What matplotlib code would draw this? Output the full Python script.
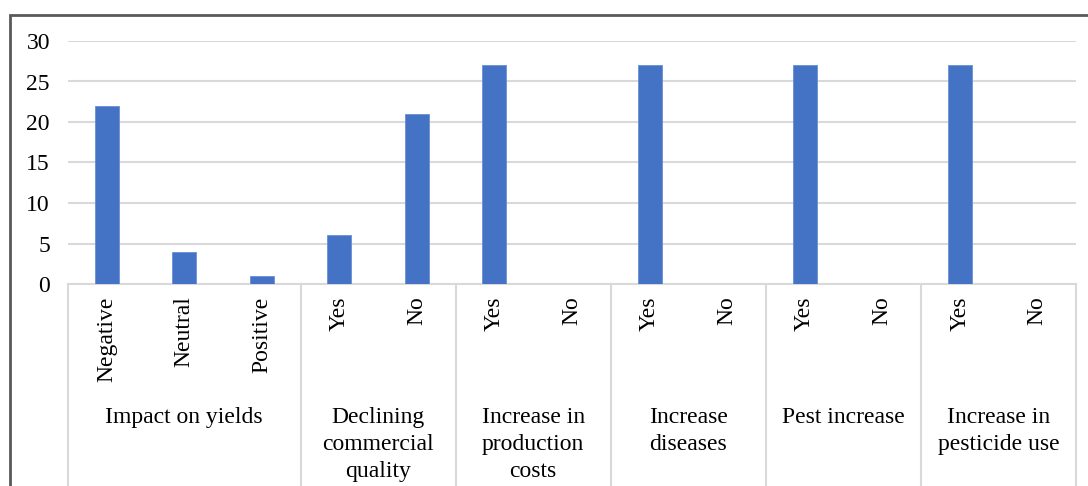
import matplotlib
matplotlib.use("Agg")
import matplotlib.pyplot as plt
from matplotlib.patches import Rectangle

# Survey responses per sub-category
sub_labels = ["Negative", "Neutral", "Positive",
              "Yes", "No", "Yes", "No", "Yes", "No", "Yes", "No", "Yes", "No"]
counts = [22, 4, 1, 6, 21, 27, 0, 27, 0, 27, 0, 27, 0]

# Outer groups and how many sub-categories each spans
group_labels = ["Impact on yields", "Declining\ncommercial\nquality",
                "Increase in\nproduction\ncosts", "Increase\ndiseases",
                "Pest increase", "Increase in\npesticide use"]
group_sizes = [3, 2, 2, 2, 2, 2]

y_ticks = [0, 5, 10, 15, 20, 25, 30]

W, H = 1088, 486
plt.rcParams["font.family"] = ["Liberation Serif", "DejaVu Serif"]
FS = 17
fig = plt.figure(figsize=(W / 100, H / 100), dpi=100)

left, right, top, bottom = 68, 1076, 41, 284
ax = fig.add_axes([left / W, (H - bottom) / H, (right - left) / W, (bottom - top) / H])

x = list(range(len(counts)))
ax.bar(x, counts, width=0.31, color="#4472C4", edgecolor="#6A8FD3",
       linewidth=0.6, zorder=3)

ax.set_xlim(-0.5, len(counts) - 0.5)
ax.set_ylim(0, 30)
ax.set_yticks(y_ticks)
ax.set_yticklabels([str(v) for v in y_ticks], fontsize=FS)
ax.yaxis.grid(True, color="#D9D9D9", linewidth=1.5, zorder=0)
ax.tick_params(axis="y", length=0, pad=13)

ax.set_xticks(x)
ax.set_xticklabels(sub_labels, rotation=90, fontsize=FS)
ax.tick_params(axis="x", length=0, pad=9)

for s in ["top", "right", "left"]:
    ax.spines[s].set_visible(False)
ax.spines["bottom"].set_color("#D9D9D9")
ax.spines["bottom"].set_linewidth(1.5)

# Group separators running below the axis and the group names
trans = ax.get_xaxis_transform()
axis_h = bottom - top
depth = (H - bottom) / axis_h
edges = [-0.5]
for n in group_sizes:
    edges.append(edges[-1] + n)
for e in edges:
    ax.plot([e, e], [0, -depth - 0.05], color="#D9D9D9", linewidth=1.5,
            transform=trans, clip_on=False)

for i, (lab, n) in enumerate(zip(group_labels, group_sizes)):
    cx = (edges[i] + edges[i + 1]) / 2
    ax.annotate(lab, xy=(cx, 0), xycoords=("data", "axes fraction"),
                xytext=(0, -123), textcoords="offset pixels",
                ha="center", va="top", fontsize=FS, linespacing=1.36)

# Outer frame
fig.patches.append(Rectangle((10 / W, -0.05), 1.2, (H - 15) / H + 0.05,
                             transform=fig.transFigure, fill=False,
                             edgecolor="#595959", linewidth=2, clip_on=False))

fig.savefig("out.png", dpi=100)
